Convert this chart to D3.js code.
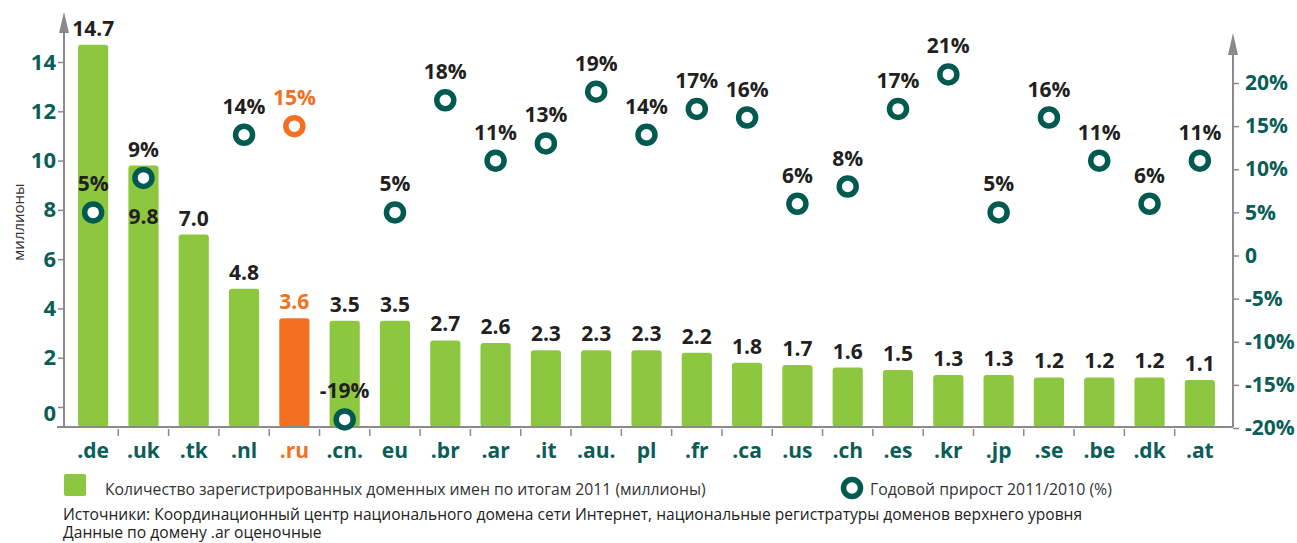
<!DOCTYPE html>
<html>
<head>
<meta charset="utf-8">
<script src="https://cdn.jsdelivr.net/npm/d3@7"></script>
<style>
  body { margin: 0; background: #fff; }
  svg { display: block; }
  text { font-family: "Open Sans", sans-serif; }
</style>
</head>
<body>
<svg id="drawing_region"></svg>
<script>
// domains, 2011 totals (millions) and growth 2011/2010 (%)
const domains = ['.de', '.uk', '.tk', '.nl', '.ru', '.cn.', 'eu', '.br', '.ar', '.it', '.au.', 'pl',
    '.fr', '.ca', '.us', '.ch', '.es', '.kr', '.jp', '.se', '.be', '.dk', '.at'];
const millions = [14.7, 9.8, 7.0, 4.8, 3.6, 3.5, 3.5, 2.7, 2.6, 2.3, 2.3, 2.3,
    2.2, 1.8, 1.7, 1.6, 1.5, 1.3, 1.3, 1.2, 1.2, 1.2, 1.1];
const growth = [5, 9, null, 14, 15, -19, 5, 18, 11, 13, 19, 14,
    17, 16, 6, 8, 17, 21, 5, 16, 11, 6, 11];
const leftTicks = [0, 2, 4, 6, 8, 10, 12, 14];
const rightTicks = [-20, -15, -10, -5, 0, 5, 10, 15, 20];
const highlight = '.ru';

const legendBars = 'Количество зарегистрированных доменных имен по итогам 2011 (миллионы)';
const legendGrowth = 'Годовой прирост 2011/2010 (%)';
const sourceLines = [
    'Источники: Координационный центр национального домена сети Интернет, национальные регистратуры доменов верхнего уровня',
    'Данные по домену .ar оценочные'
];
const yLabel = 'миллионы';

const GREEN = '#8dc63f', ORANGE = '#f37021', TEAL = '#0b5d57', RING = '#005a50',
      DARK = '#231f20', GREY = '#8a8a8a';

const data = domains.map((d, i) => ({ dom: d, v: millions[i], g: growth[i] }));

const W = 1297, H = 543;
const svg = d3.select('#drawing_region').attr('width', W).attr('height', H);

const base = 427;
const axL = 64, axR = 1233;

const x = d3.scaleBand().domain(domains).range([68, 1225])
    .paddingInner(0.4).paddingOuter(0.2);
const yL = d3.scaleLinear().domain([0, 14]).range([407, 62]);
const yR = d3.scaleLinear().domain([-20, 20]).range([428, 83]);

const cx = d => x(d.dom) + x.bandwidth() / 2;
const colorOf = d => d.dom === highlight ? ORANGE : null;

// bars
svg.append('g').selectAll('rect')
    .data(data)
    .join('rect')
    .attr('x', d => x(d.dom))
    .attr('y', d => yL(d.v))
    .attr('width', x.bandwidth())
    .attr('height', d => base - yL(d.v))
    .attr('rx', 3)
    .attr('fill', d => colorOf(d) || GREEN);

// bar value labels
svg.append('g').selectAll('text')
    .data(data)
    .join('text')
    .attr('x', cx)
    .attr('y', d => d.dom === '.uk' ? yR(d.g) + 46 : yL(d.v) - 9)
    .attr('text-anchor', 'middle')
    .attr('font-size', 21)
    .attr('font-weight', 700)
    .attr('fill', d => colorOf(d) || DARK)
    .text(d => d3.format('.1f')(d.v));

// axes lines
const axisG = svg.append('g').attr('stroke', GREY).attr('fill', 'none');
axisG.append('line').attr('x1', 57).attr('x2', axR).attr('y1', base).attr('y2', base).attr('stroke-width', 2);
axisG.append('line').attr('x1', axL).attr('x2', axL).attr('y1', 30).attr('y2', base).attr('stroke-width', 2);
axisG.append('line').attr('x1', axR).attr('x2', axR).attr('y1', 52).attr('y2', base).attr('stroke-width', 2);
svg.append('path').attr('fill', GREY)
    .attr('d', `M${axL},12 L${axL + 5},33 L${axL - 5},33 Z`);
svg.append('path').attr('fill', GREY)
    .attr('d', `M${axR},33 L${axR + 5},55 L${axR - 5},55 Z`);

// category boundary ticks
axisG.selectAll('.ctick')
    .data(domains.slice(1))
    .join('line')
    .attr('x1', d => x(d) - x.step() * 0.2)
    .attr('x2', d => x(d) - x.step() * 0.2)
    .attr('y1', base + 2).attr('y2', base + 9)
    .attr('stroke-width', 1.5);

// left axis
const leftAxis = svg.append('g')
    .attr('transform', `translate(${axL},0)`)
    .call(d3.axisLeft(yL).tickValues(leftTicks).tickSize(6).tickPadding(2));
leftAxis.select('.domain').remove();
leftAxis.selectAll('line').attr('stroke', GREY).attr('stroke-width', 1.5);
leftAxis.selectAll('text')
    .attr('font-family', '"Open Sans", sans-serif')
    .attr('font-size', 22).attr('font-weight', 700).attr('fill', TEAL);
leftAxis.selectAll('.tick').filter(d => d === 0).select('text').attr('dy', '0.62em');

// right axis
const rightAxis = svg.append('g')
    .attr('transform', `translate(${axR},0)`)
    .call(d3.axisRight(yR).tickValues(rightTicks).tickSize(6).tickPadding(6)
        .tickFormat(d => d === 0 ? '0' : d + '%'));
rightAxis.select('.domain').remove();
rightAxis.selectAll('line').attr('stroke', GREY).attr('stroke-width', 1.5);
rightAxis.selectAll('text')
    .attr('font-family', '"Open Sans", sans-serif')
    .attr('font-size', 21).attr('font-weight', 700).attr('fill', TEAL);

// category labels
svg.append('g').selectAll('text')
    .data(data)
    .join('text')
    .attr('x', cx)
    .attr('y', 458)
    .attr('text-anchor', 'middle')
    .attr('font-size', 21)
    .attr('font-weight', 700)
    .attr('fill', d => colorOf(d) || TEAL)
    .text(d => d.dom);

// growth rings and labels
const gdata = data.filter(d => d.g !== null);
svg.append('g').selectAll('circle')
    .data(gdata)
    .join('circle')
    .attr('cx', cx)
    .attr('cy', d => yR(d.g))
    .attr('r', 8.5)
    .attr('fill', '#fff')
    .attr('stroke', d => colorOf(d) || RING)
    .attr('stroke-width', 5.5);

svg.append('g').selectAll('text')
    .data(gdata)
    .join('text')
    .attr('x', cx)
    .attr('y', d => yR(d.g) - 21)
    .attr('text-anchor', 'middle')
    .attr('font-size', 21)
    .attr('font-weight', 700)
    .attr('fill', d => colorOf(d) || DARK)
    .text(d => d.g + '%');

// y label
svg.append('text')
    .attr('transform', 'translate(24,222) rotate(-90)')
    .attr('text-anchor', 'middle')
    .attr('font-size', 15)
    .attr('fill', '#333')
    .text(yLabel);

// legend
svg.append('rect').attr('x', 64).attr('y', 474).attr('width', 22).attr('height', 22)
    .attr('rx', 2).attr('fill', GREEN);
const fitText = (sel, target) => {
    const w = sel.node().getComputedTextLength();
    const fs = parseFloat(sel.attr('font-size'));
    sel.attr('font-size', fs * target / w);
};
const lt1 = svg.append('text').attr('x', 105).attr('y', 495)
    .attr('font-size', 15).attr('fill', '#333').text(legendBars);
fitText(lt1, 601);
svg.append('circle').attr('cx', 852).attr('cy', 488).attr('r', 8.5)
    .attr('fill', '#fff').attr('stroke', RING).attr('stroke-width', 5.5);
const lt2 = svg.append('text').attr('x', 870).attr('y', 495)
    .attr('font-size', 15).attr('fill', '#333').text(legendGrowth);
fitText(lt2, 242);

// sources
const s1 = svg.append('text').attr('x', 63).attr('y', 520)
    .attr('font-size', 15).attr('fill', '#222').text(sourceLines[0]);
fitText(s1, 1020);
const s2 = svg.append('text').attr('x', 63).attr('y', 538)
    .attr('font-size', 15).attr('fill', '#222').text(sourceLines[1]);
fitText(s2, 259);
</script>
</body>
</html>
